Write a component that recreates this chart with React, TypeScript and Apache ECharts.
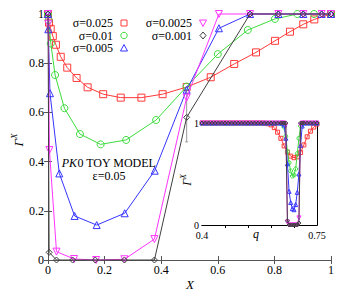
import React, { useEffect, useRef } from 'react';
import * as echarts from 'echarts';

// ---------- main plot data ----------
const redX = [0, 0.0035, 0.0095, 0.017, 0.028, 0.045, 0.068, 0.101, 0.14, 0.195, 0.257, 0.33, 0.405, 0.49, 0.575, 0.658, 0.735, 0.802, 0.855, 0.902, 0.941, 1];
const redY = [1, 0.965, 0.94, 0.91, 0.875, 0.826, 0.782, 0.74, 0.702, 0.674, 0.66, 0.66, 0.674, 0.703, 0.743, 0.797, 0.844, 0.891, 0.928, 0.958, 0.978, 1];

const greenX = [0, 0.002, 0.01, 0.025, 0.058, 0.113, 0.186, 0.276, 0.382, 0.49, 0.6, 0.706, 0.802, 0.881, 0.94, 1];
const greenY = [1, 0.975, 0.88, 0.752, 0.617, 0.512, 0.47, 0.488, 0.569, 0.705, 0.837, 0.935, 0.98, 1, 1, 1];

const blueX = [0, 0.001, 0.007, 0.04, 0.094, 0.172, 0.271, 0.377, 0.49, 0.604, 0.714, 0.814, 0.902, 0.967, 1];
const blueY = [1, 0.938, 0.678, 0.352, 0.179, 0.142, 0.19, 0.363, 0.692, 0.942, 1, 1, 1, 1, 1];

const magentaX = [0, 0.001, 0.005, 0.03, 0.092, 0.17, 0.27, 0.376, 0.49, 0.604, 0.714, 0.814, 0.902, 0.967, 1];
const magentaY = [1, 0.96, 0.447, 0.034, 0.004, 0, 0.003, 0.085, 0.66, 1, 1, 1, 1, 1, 1];

const blackX = [0, 0.004, 0.03, 0.087, 0.167, 0.27, 0.376, 0.49, 0.714, 0.814, 0.902, 0.967, 1];
const blackY = [1, 0.031, 0, 0, 0, 0, 0, 0.58, 1, 1, 1, 1, 1];
// error bar on the sigma=0.001 curve: [x, low, high]
const blackErr = [[0.49, 0.48, 0.69]];

// ---------- inset data ----------
const qRed = [0.4, 0.41, 0.42, 0.43, 0.44, 0.45, 0.46, 0.47, 0.48, 0.49, 0.5, 0.51, 0.52, 0.53, 0.54, 0.55, 0.56, 0.57, 0.58,
  0.59, 0.6, 0.61, 0.62, 0.63, 0.64, 0.65, 0.66, 0.67, 0.68, 0.69, 0.7, 0.71, 0.72, 0.73, 0.74, 0.75];
const insetRed = [1, 1, 1, 1, 1, 1, 1, 1, 1, 1, 1, 1, 1, 1, 1, 1, 1, 1, 1,
  0.998, 0.993, 0.982, 0.955, 0.91, 0.85, 0.775, 0.715, 0.675, 0.66, 0.668, 0.71, 0.785, 0.865, 0.92, 0.96, 0.99];

const qFine = [0.4, 0.41, 0.42, 0.43, 0.44, 0.45, 0.46, 0.47, 0.48, 0.49, 0.5, 0.51, 0.52, 0.53, 0.54, 0.55, 0.56, 0.57, 0.58, 0.59, 0.6, 0.61, 0.62, 0.63, 0.64,
  0.645, 0.65, 0.655, 0.66, 0.665, 0.67, 0.675, 0.68, 0.685, 0.69, 0.695, 0.7, 0.705, 0.71,
  0.72, 0.73, 0.74, 0.75];
const insetGreen = [1, 1, 1, 1, 1, 1, 1, 1, 1, 1, 1, 1, 1, 1, 1, 1, 1, 1, 1, 1, 1, 1, 1, 1, 0.998,
  0.99, 0.96, 0.87, 0.72, 0.61, 0.53, 0.48, 0.49, 0.55, 0.7, 0.85, 0.97, 0.995, 1,
  1, 1, 1, 1];
const insetBlue = [1, 1, 1, 1, 1, 1, 1, 1, 1, 1, 1, 1, 1, 1, 1, 1, 1, 1, 1, 1, 1, 1, 1, 1, 1,
  1, 0.98, 0.85, 0.6, 0.33, 0.22, 0.16, 0.15, 0.2, 0.32, 0.5, 0.78, 0.97, 1,
  1, 1, 1, 1];
const insetMagenta = [1, 1, 1, 1, 1, 1, 1, 1, 1, 1, 1, 1, 1, 1, 1, 1, 1, 1, 1, 1, 1, 1, 1, 1, 1,
  1, 1, 0.98, 0.03, 0, 0, 0, 0, 0, 0, 0.07, 0.98, 1, 1,
  1, 1, 1, 1];
const insetBlack = [1, 1, 1, 1, 1, 1, 1, 1, 1, 1, 1, 1, 1, 1, 1, 1, 1, 1, 1, 1, 1, 1, 1, 1, 1,
  1, 1, 1, 0.04, 0, 0, 0, 0, 0, 0, 0.02, 1, 1, 1,
  1, 1, 1, 1];

const legendLabels = ['σ=0.025', 'σ=0.01', 'σ=0.005', 'σ=0.0025', 'σ=0.001'];
const mainTicks = [0, 0.2, 0.4, 0.6, 0.8, 1];
const insetXLabels = [0.4, 0.75];
const insetXTicks = [0.47, 0.54, 0.61, 0.68];
const insetYLabels = [0, 1];

const COLORS = ['#ff3a3a', '#3ddc3d', '#3535ff', '#ff35ff', '#404040'];
const DOWN_TRI = 'path://M0,0L10,0L5,9Z';
const SYMBOLS = ['rect', 'circle', 'triangle', DOWN_TRI, 'diamond'];
const SERIF = '"Liberation Serif", "DejaVu Serif", "Times New Roman", serif';

const zip = (xs: number[], ys: number[]) => xs.map((x, i) => [x, ys[i]]);

export default function App() {
  const ref = useRef<HTMLDivElement>(null);
  useEffect(() => {
    const chart = echarts.init(ref.current!, null, { renderer: 'svg' });

    const mainData = [zip(redX, redY), zip(greenX, greenY), zip(blueX, blueY), zip(magentaX, magentaY), zip(blackX, blackY)];
    const insetData = [zip(qRed, insetRed), zip(qFine, insetGreen), zip(qFine, insetBlue), zip(qFine, insetMagenta), zip(qFine, insetBlack)];

    const mainFrame = '#555';
    const axisBase = (gridIndex: number, color: string) => ({
      gridIndex,
      type: 'value',
      axisLine: { show: true, lineStyle: { color, width: 1 } },
      splitLine: { show: false },
    });

    const xAxis: any[] = [
      {
        ...axisBase(0, mainFrame), position: 'bottom', min: 0, max: 1, interval: 0.2,
        axisTick: { inside: true, length: 4, lineStyle: { color: mainFrame } },
        axisLabel: { fontFamily: SERIF, fontSize: 12, color: '#000', margin: 4, customValues: mainTicks },
      },
      {
        ...axisBase(0, mainFrame), position: 'top', min: 0, max: 1, interval: 0.2,
        axisTick: { inside: true, length: 4, lineStyle: { color: mainFrame } },
        axisLabel: { show: false },
      },
      {
        ...axisBase(1, '#000'), position: 'bottom', min: 0.4, max: 0.75,
        axisTick: { inside: true, length: 3, lineStyle: { color: '#000' }, customValues: insetXTicks },
        axisLabel: { fontFamily: SERIF, fontSize: 10, lineHeight: 10, color: '#000', margin: 5, customValues: insetXLabels },
      },
      {
        ...axisBase(1, '#000'), position: 'top', min: 0.4, max: 0.75,
        axisTick: { inside: true, length: 3, lineStyle: { color: '#000' }, customValues: insetXTicks },
        axisLabel: { show: false },
      },
    ];
    const yAxis: any[] = [
      {
        ...axisBase(0, mainFrame), position: 'left', min: 0, max: 1, interval: 0.2,
        axisTick: { inside: true, length: 4, lineStyle: { color: mainFrame } },
        axisLabel: { fontFamily: SERIF, fontSize: 12, color: '#000', margin: 4, customValues: mainTicks },
      },
      {
        ...axisBase(0, mainFrame), position: 'right', min: 0, max: 1, interval: 0.2,
        axisTick: { inside: true, length: 4, lineStyle: { color: mainFrame } },
        axisLabel: { show: false },
      },
      {
        ...axisBase(1, '#000'), position: 'left', min: 0, max: 1, interval: 0.25,
        axisTick: { inside: true, length: 3, lineStyle: { color: '#000' } },
        axisLabel: { fontFamily: SERIF, fontSize: 10, lineHeight: 9, color: '#000', margin: 3, customValues: insetYLabels },
      },
      {
        ...axisBase(1, '#000'), position: 'right', min: 0, max: 1, interval: 0.25,
        axisTick: { inside: true, length: 3, lineStyle: { color: '#000' } },
        axisLabel: { show: false },
      },
    ];

    const series: any[] = [];
    mainData.forEach((d, i) => {
      series.push({
        type: 'line', name: legendLabels[i], xAxisIndex: 0, yAxisIndex: 0, data: d,
        symbol: SYMBOLS[i], symbolSize: i === 4 ? 6 : 7, clip: false, z: 3 + i,
        lineStyle: { color: COLORS[i], width: 1 },
        itemStyle: { color: 'rgba(0,0,0,0)', borderColor: COLORS[i], borderWidth: 1 },
        emphasis: { disabled: true },
      });
    });
    insetData.forEach((d, i) => {
      series.push({
        type: 'line', xAxisIndex: 2, yAxisIndex: 2, data: d,
        symbol: SYMBOLS[i], symbolSize: 4, clip: false, z: 3 + i,
        lineStyle: { color: COLORS[i], width: 1 },
        itemStyle: { color: 'rgba(0,0,0,0)', borderColor: COLORS[i], borderWidth: 1 },
        emphasis: { disabled: true },
      });
    });
    series.push({
      type: 'custom', xAxisIndex: 0, yAxisIndex: 0, data: blackErr, z: 2, clip: false,
      renderItem: (_p: any, api: any) => {
        const x = api.value(0);
        const a = api.coord([x, api.value(1)]);
        const b = api.coord([x, api.value(2)]);
        const st = { stroke: '#9a9a9a', lineWidth: 1 };
        return {
          type: 'group', children: [
            { type: 'line', shape: { x1: a[0], y1: a[1], x2: b[0], y2: b[1] }, style: st },
            { type: 'line', shape: { x1: a[0] - 1.5, y1: a[1], x2: a[0] + 1.5, y2: a[1] }, style: st },
            { type: 'line', shape: { x1: b[0] - 1.5, y1: b[1], x2: b[0] + 1.5, y2: b[1] }, style: st },
          ],
        };
      },
    });

    // legend drawn as graphic: right-aligned text followed by marker
    const legendPos = [
      { tx: 113, mx: 124, y: 23 },
      { tx: 113, mx: 124, y: 35.5 },
      { tx: 113, mx: 124, y: 48 },
      { tx: 192, mx: 203, y: 23 },
      { tx: 192, mx: 203, y: 35.5 },
    ];
    const markerEl = (i: number, mx: number, my: number) => {
      const style = { fill: 'none', stroke: COLORS[i], lineWidth: 1 };
      if (i === 0) return { type: 'rect', shape: { x: mx - 3, y: my - 3, width: 6, height: 6 }, style };
      if (i === 1) return { type: 'circle', shape: { cx: mx, cy: my, r: 3.2 }, style };
      if (i === 2) return { type: 'polygon', shape: { points: [[mx, my - 3.5], [mx + 3.5, my + 3], [mx - 3.5, my + 3]] }, style };
      if (i === 3) return { type: 'polygon', shape: { points: [[mx - 3.5, my - 3], [mx + 3.5, my - 3], [mx, my + 3.5]] }, style };
      return { type: 'polygon', shape: { points: [[mx, my - 3.5], [mx + 3, my], [mx, my + 3.5], [mx - 3, my]] }, style };
    };
    const graphic: any[] = [];
    legendLabels.forEach((lab, i) => {
      const p = legendPos[i];
      graphic.push({
        type: 'text', x: p.tx, y: p.y, z: 100,
        style: { text: lab, fill: '#000', fontFamily: SERIF, fontSize: 12, lineHeight: 12, align: 'right', verticalAlign: 'middle' },
      });
      graphic.push({ ...markerEl(i, p.mx, p.y), z: 100 });
    });
    graphic.push({
      type: 'text', x: 109, y: 162.5, z: 100,
      style: {
        text: '{i|PK}{n|0 TOY MODEL}', align: 'center', verticalAlign: 'middle',
        rich: {
          i: { fontFamily: SERIF, fontSize: 12, lineHeight: 12, fontStyle: 'italic', fill: '#000' },
          n: { fontFamily: SERIF, fontSize: 12, lineHeight: 12, fill: '#000' },
        },
      },
    });
    graphic.push({
      type: 'text', x: 109, y: 175.5, z: 100,
      style: { text: 'ε=0.05', fill: '#000', fontFamily: SERIF, fontSize: 12, lineHeight: 12, align: 'center', verticalAlign: 'middle' },
    });
    graphic.push({
      type: 'text', x: 190, y: 284, z: 100,
      style: { text: 'X', fill: '#000', fontFamily: SERIF, fontSize: 13, fontStyle: 'italic', align: 'center', verticalAlign: 'middle' },
    });
    graphic.push({
      type: 'text', x: 256, y: 234, z: 100,
      style: { text: 'q', fill: '#000', fontFamily: SERIF, fontSize: 12, fontStyle: 'italic', align: 'center', verticalAlign: 'middle' },
    });
    const gammaX = (x: number, y: number, size: number) => ({
      type: 'text', x, y, rotation: Math.PI / 2, z: 100,
      style: {
        text: '{g|Γ}{s|X}', align: 'center', verticalAlign: 'middle',
        rich: {
          g: { fontFamily: SERIF, fontSize: size, fontStyle: 'italic', fill: '#000', lineHeight: size + 4 },
          s: { fontFamily: SERIF, fontSize: size - 4, fontStyle: 'italic', fill: '#000', lineHeight: size - 3, verticalAlign: 'top' },
        },
      },
    });
    graphic.push(gammaX(18, 140, 13));
    graphic.push(gammaX(187, 180, 12));

    chart.setOption({
      animation: false,
      backgroundColor: '#fff',
      textStyle: { fontFamily: SERIF },
      grid: [
        { left: 48, right: 22, top: 14, bottom: 34 },
        { left: 202, right: 36, top: 123, bottom: 69, show: true, backgroundColor: '#fff', borderWidth: 0, z: 1 },
      ],
      xAxis,
      yAxis,
      series,
      graphic,
    });
    return () => chart.dispose();
  }, []);
  return <div ref={ref} style={{ position: 'fixed', left: 0, top: 0, width: 353, height: 294 }} />;
}
